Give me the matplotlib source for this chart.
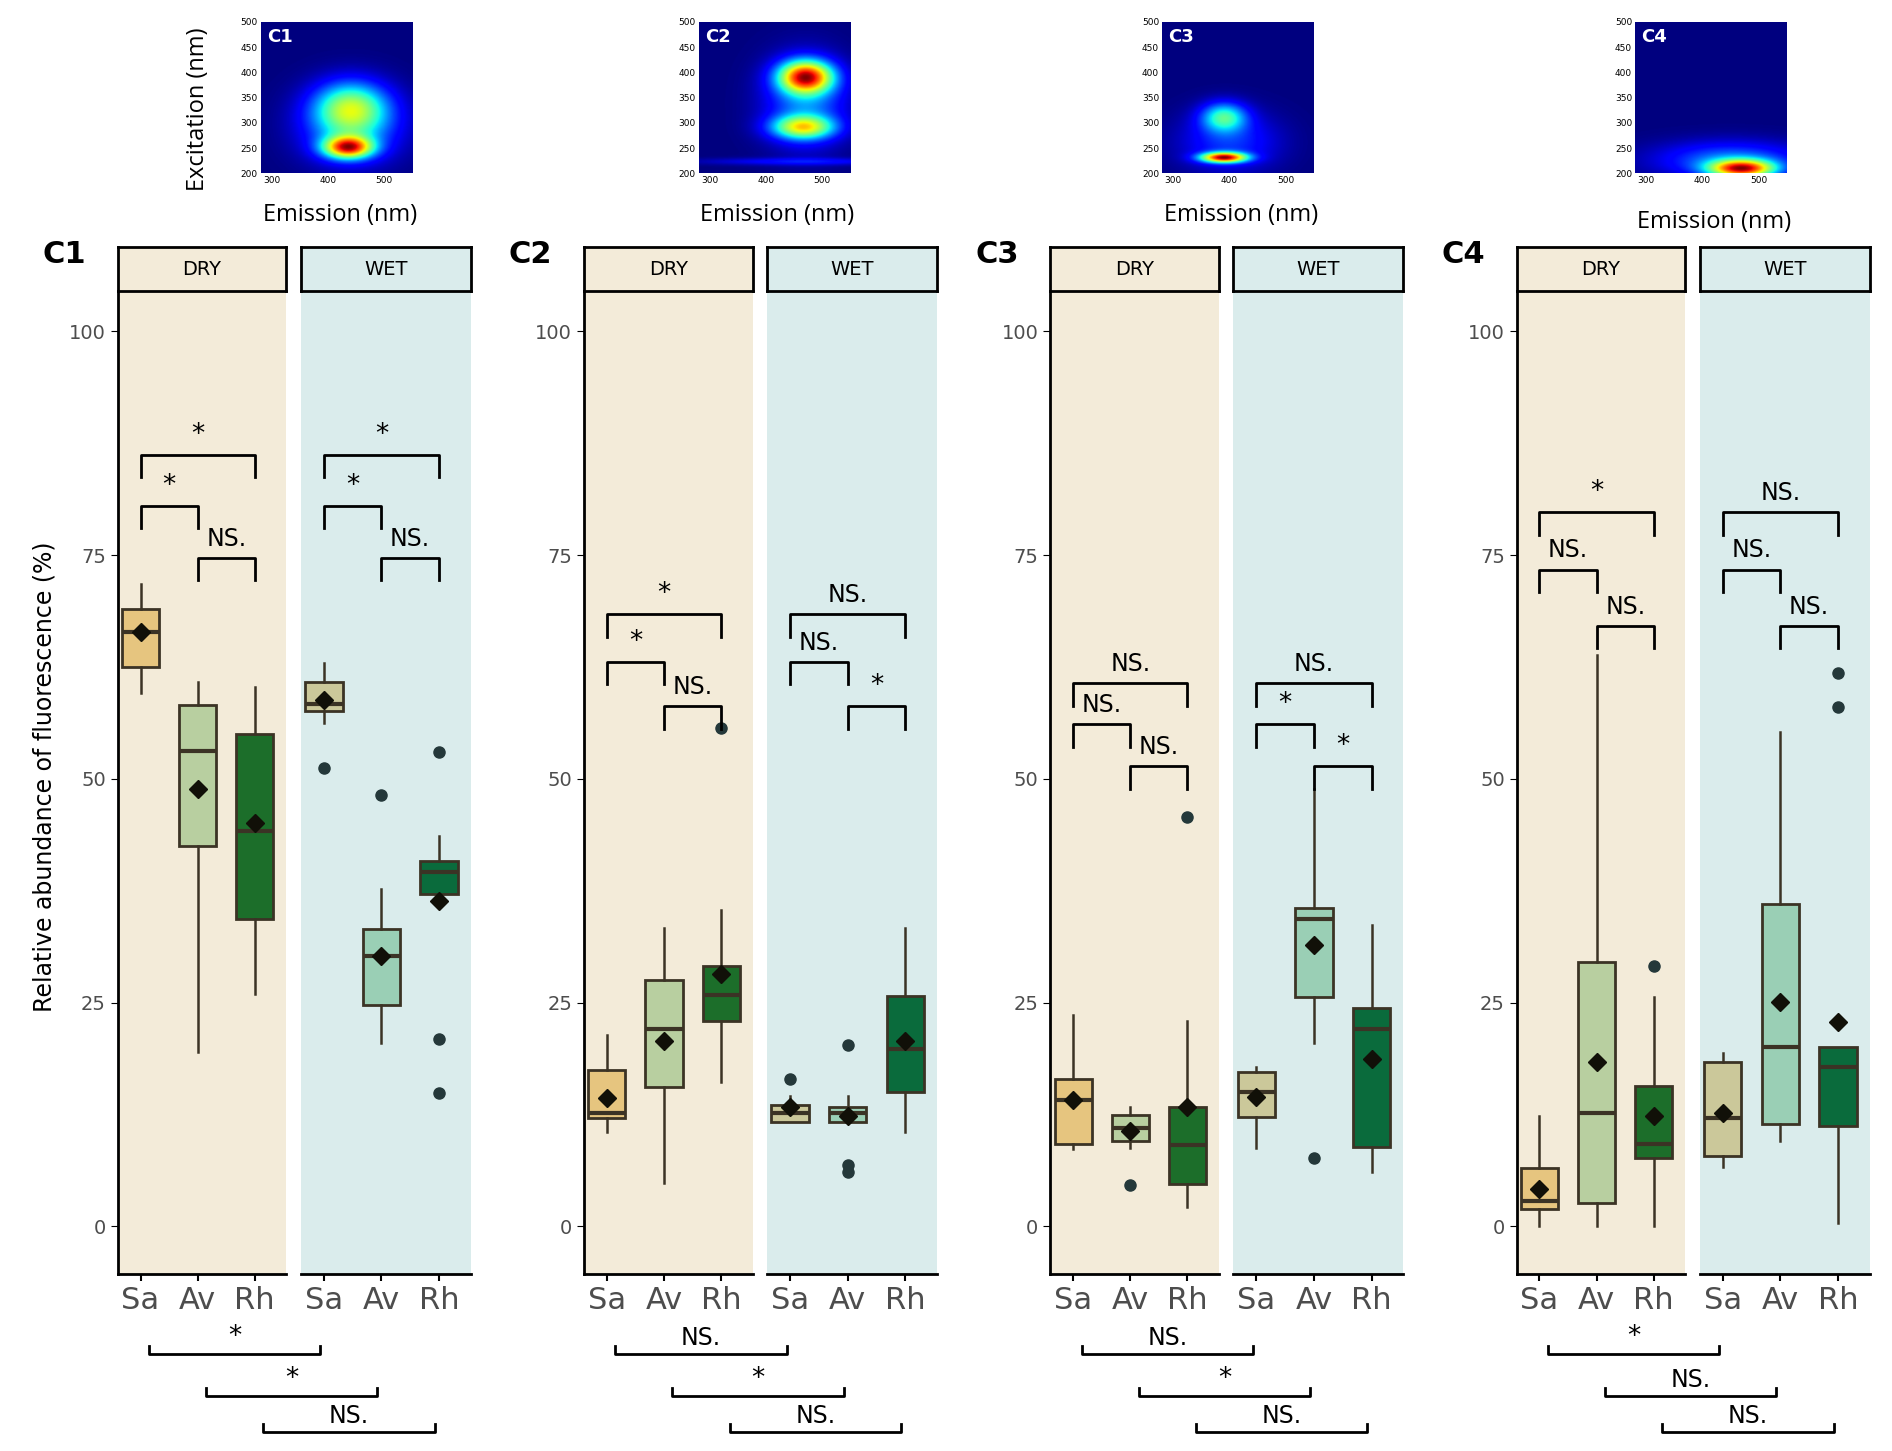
import matplotlib.pyplot as plt
import numpy as np

# ---- data ----
groups = ["Sa", "Av", "Rh"]
comps = ["C1", "C2", "C3", "C4"]

# per component, season: list of (whislo, q1, med, q3, whishi, mean, fliers)
c1_dry = [(59.6, 62.5, 66.4, 69.0, 71.8, 66.4, []),
          (19.5, 42.5, 53.1, 58.3, 60.8, 48.9, []),
          (26.0, 34.3, 44.2, 55.0, 60.3, 45.1, [])]
c1_wet = [(56.2, 57.6, 58.4, 60.8, 62.9, 58.8, [51.2]),
          (20.5, 24.7, 30.2, 33.2, 37.7, 30.2, [48.2]),
          (36.0, 37.1, 39.6, 40.8, 43.6, 36.4, [53.0, 20.9, 14.9])]
c2_dry = [(10.6, 12.1, 12.7, 17.5, 21.4, 14.4, []),
          (4.9, 15.6, 22.1, 27.5, 33.3, 20.7, []),
          (16.1, 22.9, 25.9, 29.1, 35.4, 28.2, [55.7])]
c2_wet = [(11.7, 11.7, 12.7, 13.6, 14.6, 13.3, [16.5]),
          (11.7, 11.7, 12.7, 13.3, 14.6, 12.3, [20.3, 6.9, 6.1]),
          (10.6, 15.0, 19.8, 25.7, 33.3, 20.7, [])]
c3_dry = [(8.7, 9.2, 14.1, 16.5, 23.6, 14.1, []),
          (8.8, 9.5, 11.0, 12.5, 13.4, 10.7, [4.6]),
          (2.2, 4.7, 9.1, 13.4, 22.9, 13.3, [45.7])]
c3_wet = [(8.8, 12.2, 15.0, 17.3, 17.8, 14.5, []),
          (20.5, 25.6, 34.4, 35.6, 48.9, 31.4, [7.6]),
          (6.1, 8.9, 22.1, 24.4, 33.7, 18.7, [])]
c4_dry = [(0.0, 2.0, 2.8, 6.5, 12.3, 4.2, []),
          (0.0, 2.6, 12.7, 29.5, 63.8, 18.4, []),
          (0.0, 7.6, 9.2, 15.7, 25.6, 12.3, [29.1])]
c4_wet = [(6.6, 7.9, 12.1, 18.4, 19.4, 12.7, []),
          (9.5, 11.5, 20.0, 36.0, 55.3, 25.1, []),
          (0.4, 11.2, 17.8, 20.0, 20.0, 22.8, [61.8, 58.0])]
box_data = {"C1": (c1_dry, c1_wet), "C2": (c2_dry, c2_wet),
            "C3": (c3_dry, c3_wet), "C4": (c4_dry, c4_wet)}

# within-season brackets: (i, j, y, label)
brk_dry = {"C1": [(1, 3, 86.2, "*"), (1, 2, 80.5, "*"), (2, 3, 74.7, "NS.")],
           "C2": [(1, 3, 68.4, "*"), (1, 2, 63.1, "*"), (2, 3, 58.1, "NS.")],
           "C3": [(1, 3, 60.7, "NS."), (1, 2, 56.1, "NS."), (2, 3, 51.4, "NS.")],
           "C4": [(1, 3, 79.8, "*"), (1, 2, 73.4, "NS."), (2, 3, 67.1, "NS.")]}
brk_wet = {"C1": [(1, 3, 86.2, "*"), (1, 2, 80.5, "*"), (2, 3, 74.7, "NS.")],
           "C2": [(1, 3, 68.4, "NS."), (1, 2, 63.1, "NS."), (2, 3, 58.1, "*")],
           "C3": [(1, 3, 60.7, "NS."), (1, 2, 56.1, "*"), (2, 3, 51.4, "*")],
           "C4": [(1, 3, 79.8, "NS."), (1, 2, 73.4, "NS."), (2, 3, 67.1, "NS.")]}
# dry vs wet, per group
brk_season = {"C1": ["*", "*", "NS."], "C2": ["NS.", "*", "NS."],
              "C3": ["NS.", "*", "NS."], "C4": ["*", "NS.", "NS."]}

# EEM peaks: (emission, excitation, amplitude, sd_em, sd_ex)
eem_peaks = {"C1": [(435, 250, 1.0, 30, 15), (440, 330, 0.55, 45, 35), (440, 290, 0.35, 60, 50)],
             "C2": [(470, 390, 1.0, 33, 22), (465, 290, 0.65, 38, 16), (470, 340, 0.3, 50, 60),
                    (460, 222, 0.15, 120, 5)],
             "C3": [(390, 230, 1.0, 28, 7), (390, 310, 0.45, 28, 20), (400, 260, 0.2, 60, 40)],
             "C4": [(470, 208, 1.0, 40, 12), (450, 225, 0.3, 90, 25)]}

dry_cols = ["#E6C57F", "#B8CFA0", "#1C6E2A"]
wet_cols = ["#CBC89A", "#9ACFB5", "#0A6B3C"]
dry_bg, wet_bg = "#F3EBD9", "#DAECEC"
edge = "#3B3325"

W, H = 1560.0, 1196.0


def rect(x0, y0, x1, y1):
    return [x0 / W, 1 - y1 / H, (x1 - x0) / W, (y1 - y0) / H]


def draw_box(ax, stats, cols, bg, brackets, show_y):
    st = []
    for s in stats:
        st.append(dict(whislo=s[0], q1=s[1], med=s[2], q3=s[3], whishi=s[4],
                       mean=s[5], fliers=s[6]))
    bp = ax.bxp(st, positions=[1, 2, 3], widths=0.65, patch_artist=True,
                showmeans=True, showcaps=False,
                medianprops=dict(color=edge, lw=3),
                whiskerprops=dict(color=edge, lw=1.8),
                flierprops=dict(marker="o", markerfacecolor="#24383A",
                                markeredgecolor="#24383A", markersize=8),
                meanprops=dict(marker="D", markerfacecolor="#111008",
                               markeredgecolor="#111008", markersize=9))
    for p, c in zip(bp["boxes"], cols):
        p.set_facecolor(c)
        p.set_edgecolor(edge)
        p.set_linewidth(2)
    for i, j, y, lab in brackets:
        ax.plot([i, i, j, j], [y - 2.5, y, y, y - 2.5], color="black", lw=2)
        ax.text((i + j) / 2, y + 0.8, lab, ha="center", va="bottom",
                fontsize=17 if lab != "*" else 19)
    ax.set_facecolor(bg)
    ax.set_xlim(0.6, 3.55)
    ax.set_ylim(-5.3, 104.5)
    ax.set_xticks([1, 2, 3])
    ax.set_xticklabels(groups, fontsize=22, color="#4D4D4D")
    for sp in ["top", "right"]:
        ax.spines[sp].set_visible(False)
    ax.spines["bottom"].set_linewidth(2)
    ax.spines["left"].set_linewidth(2)
    ax.tick_params(axis="x", length=5, width=1.5)
    if show_y:
        ax.set_yticks([0, 25, 50, 75, 100])
        ax.tick_params(axis="y", labelsize=14, labelcolor="#4D4D4D", length=5)
    else:
        ax.spines["left"].set_visible(False)
        ax.set_yticks([])


fig = plt.figure(figsize=(18.92, 14.51), dpi=100)

em = np.linspace(280, 550, 200)
ex = np.linspace(200, 500, 200)
EM, EX = np.meshgrid(em, ex)

hm_x = [215, 576, 958, 1348]
lab_y = [177, 177, 177, 183]
for k, c in enumerate(comps):
    off = 384.5 * k
    # EEM heatmap
    hx = hm_x[k]
    ax = fig.add_axes(rect(hx, 18, hx + 125, 143))
    Z = np.zeros_like(EM)
    for e0, x0, a, se, sx in eem_peaks[c]:
        Z += a * np.exp(-((EM - e0) ** 2 / (2 * se ** 2) + (EX - x0) ** 2 / (2 * sx ** 2)))
    ax.imshow(Z, origin="lower", extent=[280, 550, 200, 500], aspect="auto",
              cmap="jet", vmin=0, vmax=Z.max(), interpolation="bilinear")
    ax.set_xticks([300, 400, 500])
    ax.set_yticks(range(200, 501, 50))
    ax.tick_params(labelsize=6.5, length=0, pad=2)
    for sp in ax.spines.values():
        sp.set_visible(False)
    ax.text(0.04, 0.96, c, transform=ax.transAxes, color="white",
            fontweight="bold", fontsize=13, va="top")
    fig.text((hx + 65) / W, 1 - lab_y[k] / H, "Emission (nm)", ha="center",
             va="center", fontsize=17, family="Open Sans")
    if k == 0:
        fig.text(163 / W, 1 - 90 / H, "Excitation (nm)", rotation=90,
                 ha="center", va="center", fontsize=17, family="Open Sans")

    # boxplots
    dry, wet = box_data[c]
    axd = fig.add_axes(rect(97 + off, 240, 236 + off, 1050))
    draw_box(axd, dry, dry_cols, dry_bg, brk_dry[c], True)
    axw = fig.add_axes(rect(248 + off, 240, 388 + off, 1050))
    draw_box(axw, wet, wet_cols, wet_bg, brk_wet[c], False)

    # facet strips
    for x0, x1, bg, lab in [(97, 236, dry_bg, "DRY"), (248, 388, wet_bg, "WET")]:
        sa = fig.add_axes(rect(x0 + off, 204, x1 + off, 240))
        sa.set_facecolor(bg)
        sa.set_xticks([])
        sa.set_yticks([])
        for sp in sa.spines.values():
            sp.set_linewidth(2)
        sa.text(0.5, 0.5, lab, ha="center", va="center", fontsize=14,
                transform=sa.transAxes)

    fig.text((35 + off) / W, 1 - 210 / H, c, fontsize=22, fontweight="bold",
             va="center")

    # dry vs wet brackets below
    bx = fig.add_axes(rect(97 + off, 1085, 388 + off, 1195))
    bx.set_xlim(0.6, 6.78)
    bx.set_ylim(1, 0)
    bx.axis("off")
    rows = [0.28, 0.6, 0.87]
    for g, lab in enumerate(brk_season[c]):
        x1, x2 = g + 1.15, g + 1 + 3.2 - 0.05
        y = rows[g]
        bx.plot([x1, x1, x2, x2], [y - 0.06, y, y, y - 0.06], color="black", lw=2)
        bx.text((x1 + x2) / 2, y - 0.03, lab, ha="center", va="bottom",
                fontsize=17 if lab != "*" else 19)

fig.text(37 / W, 1 - 640 / H, "Relative abundance of fluorescence (%)",
         rotation=90, ha="center", va="center", fontsize=17)

plt.savefig("out.png", dpi=100)
